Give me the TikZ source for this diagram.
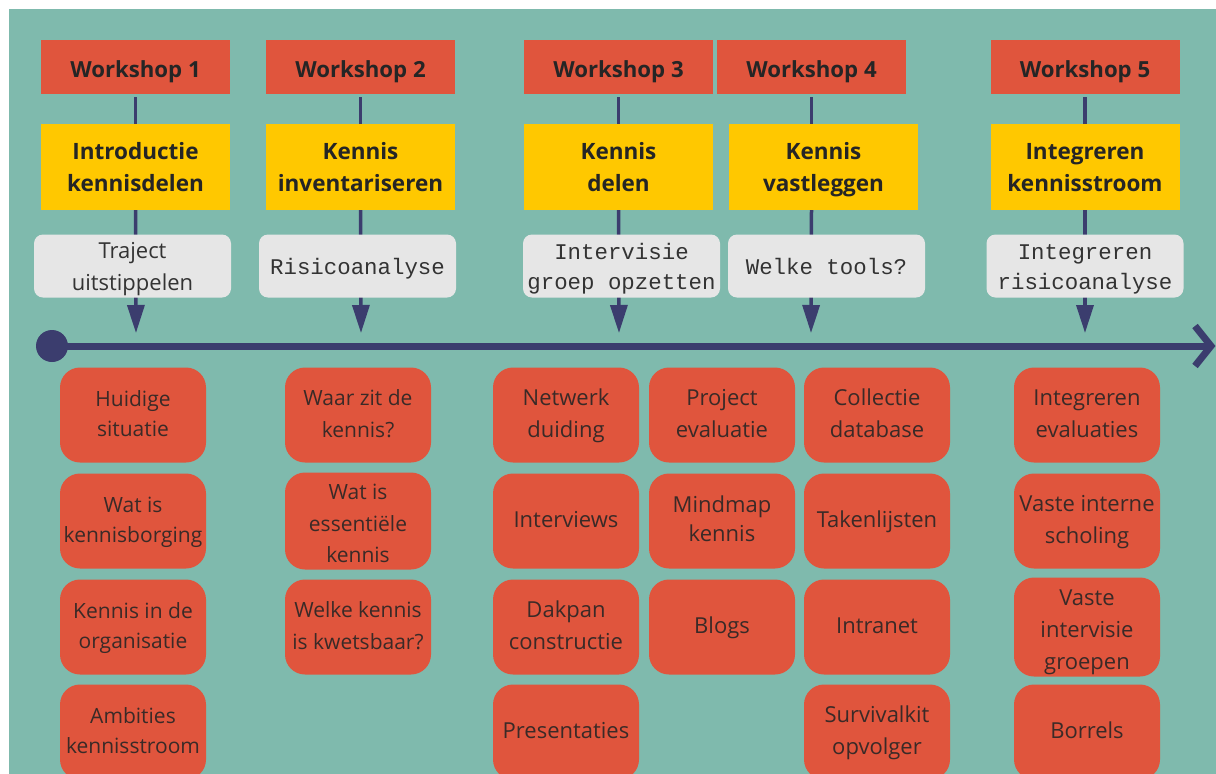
\documentclass[tikz,border=0pt]{standalone}
\usepackage{fontspec}
\setmainfont{Open Sans}
\setmonofont{Liberation Mono}
\usetikzlibrary{arrows.meta}
\definecolor{bgteal}{HTML}{7FBAAD}
\definecolor{cred}{HTML}{E0553D}
\definecolor{cyellow}{HTML}{FFC800}
\definecolor{cgray}{HTML}{E6E6E6}
\definecolor{navy}{HTML}{3B3D6E}
\definecolor{textdark}{HTML}{252525}
\definecolor{textgray}{HTML}{333333}
\definecolor{textred}{HTML}{3A2A27}
% top and bottom struts
\newcommand{\hsT}{\rule{0pt}{22pt}}
\newcommand{\hsB}{\rule[-6pt]{0pt}{6pt}}
\newcommand{\wsT}{\rule{0pt}{26pt}}
\newcommand{\isT}{\rule{0pt}{20pt}}
\newcommand{\isB}{\rule[-7pt]{0pt}{7pt}}
\begin{document}
\begin{tikzpicture}[x=1pt,y=-1pt,
  wsbox/.style={fill=cred, minimum width=189pt, minimum height=54pt, inner sep=0pt,
    font=\fontsize{22.2}{31}\selectfont\bfseries, text=textdark},
  themebox/.style={fill=cyellow, minimum width=189pt, minimum height=86pt, inner sep=0pt,
    align=center, font=\fontsize{22.5}{32}\selectfont\bfseries, text=textdark},
  qbox/.style={fill=cgray, rounded corners=9pt, minimum width=197pt, minimum height=63pt,
    inner sep=0pt, align=center, font=\ttfamily\fontsize{22.4}{30}\selectfont, text=textgray},
  itembox/.style={fill=cred, rounded corners=20pt, minimum width=146pt, minimum height=95pt,
    inner sep=0pt, align=center, font=\fontsize{21}{30}\selectfont, text=textred},
  miditem/.style={itembox, font=\fontsize{21}{31.5}\selectfont},
  bigitem/.style={itembox, font=\fontsize{22}{32}\selectfont},
  conn/.style={draw=navy, line width=3.5pt},
  arr/.style={conn, -{Triangle[length=28pt,width=17pt]}},
  tline/.style={draw=navy, line width=7pt},
]
% background
\fill[white] (0,0) rectangle (1216,774);
\fill[bgteal] (9,9) rectangle (1216,774);
\useasboundingbox (0,0) rectangle (1216,774);

% workshops
\node[wsbox] (w1) at (135.5,67) {\wsT Workshop 1\hsB};
\node[wsbox] (w2) at (360.5,67) {\wsT Workshop 2\hsB};
\node[wsbox] (w3) at (618.5,67) {\wsT Workshop 3\hsB};
\node[wsbox] (w4) at (811.5,67) {\wsT Workshop 4\hsB};
\node[wsbox] (w5) at (1085,67) {\wsT Workshop 5\hsB};

% themes
\node[themebox] (y1) at (135.5,167) {\hsT Introductie\\kennisdelen\hsB};
\node[themebox] (y2) at (360.5,167) {\hsT Kennis\\inventariseren\hsB};
\node[themebox] (y3) at (618.5,167) {\hsT Kennis\\delen\hsB};
\node[themebox] (y4) at (823.5,167) {\hsT Kennis\\vastleggen\hsB};
\node[themebox] (y5) at (1085,167) {\hsT Integreren\\kennisstroom\hsB};

% timeline
\node[circle, fill=navy, minimum size=32pt, inner sep=0pt] (dot) at (52,346) {};
\coordinate (tend) at (1211,346);
\draw[tline] (dot.center) -- (tend);
\draw[tline, line join=miter] (tend) ++(-16,-20) -- (tend) -- ++(-16,20);

\coordinate (t1) at (136,333);
\coordinate (t2) at (361,333);
\coordinate (t3) at (619,333);
\coordinate (t4) at (811,333);
\coordinate (t5) at (1085,333);

% connectors behind question boxes
\draw[conn] (w1.south) ++(0,3) -- (w1.south |- y1.north);
\draw[conn] (w2.south) ++(0,3) -- (w2.south |- y2.north);
\draw[conn] (w3.south) ++(0,3) -- (w3.south |- y3.north);
\draw[conn] (w4.south) ++(0,3) -- (w4.south |- y4.north);
\draw[conn] (w5.south) ++(0,3) -- (w5.south |- y5.north);
\draw[arr] (w1.south |- y1.south) -- (t1);
\draw[arr] (w2.south |- y2.south) -- (t2);
\draw[arr] (w3.south |- y3.south) -- (t3);
\draw[arr] (w4.south |- y4.south) -- (t4);
\draw[arr] (w5.south |- y5.south) -- (t5);

% questions
\node[qbox, font=\rmfamily\fontsize{22}{32}\selectfont] (g1) at (132.5,266) {\hsT Traject\\uitstippelen\hsB};
\node[qbox] (g2) at (357.5,266) {\hsT Risicoanalyse\hsB};
\node[qbox] (g3) at (621.5,266) {\hsT Intervisie\\groep opzetten\hsB};
\node[qbox] (g4) at (826.5,266) {\hsT Welke tools?\hsB};
\node[qbox] (g5) at (1085,266) {\hsT Integreren\\risicoanalyse\hsB};

% items
\begin{scope}
\clip (9,9) rectangle (1216,774);
\node[itembox] (a1) at (133,415) {\isT Huidige\\situatie\isB};
\node[itembox] (a2) at (133,521) {\isT Wat is\\kennisborging\isB};
\node[itembox] (a3) at (133,627) {\isT Kennis in de\\organisatie\isB};
\node[itembox] (a4) at (133,732) {\isT Ambities\\kennisstroom\isB};

\node[miditem] (b1) at (358,415) {\isT Waar zit de\\kennis?\isB};
\node[miditem] (b2) at (358,521) {\rule{0pt}{27pt}Wat is\\essentiële\\kennis\isB};
\node[miditem] (b3) at (358,627) {\isT Welke kennis\\is kwetsbaar?\isB};

\node[bigitem] (c1) at (566,415) {\isT Netwerk\\duiding\isB};
\node[bigitem] (c2) at (566,521) {\isT Interviews\isB};
\node[bigitem] (c3) at (566,627) {\isT Dakpan\\constructie\isB};
\node[bigitem] (c4) at (566,732) {\isT Presentaties\isB};

\node[bigitem] (d1) at (722,415) {\isT Project\\evaluatie\isB};
\node[bigitem] (d2) at (722,521) {\rule{0pt}{19pt}Mindmap\\[-3pt]kennis\isB};
\node[bigitem] (d3) at (722,627) {\isT Blogs\isB};

\node[bigitem] (e1) at (877,415) {\isT Collectie\\database\isB};
\node[bigitem] (e2) at (877,521) {\isT Takenlijsten\isB};
\node[bigitem] (e3) at (877,627) {\isT Intranet\isB};
\node[bigitem] (e4) at (877,732) {\isT Survivalkit\\opvolger\isB};

\node[bigitem] (f1) at (1087,415) {\isT Integreren\\evaluaties\isB};
\node[bigitem] (f2) at (1087,521) {\isT Vaste interne\\scholing\isB};
\node[bigitem] (f3) at (1087,627) {\rule{0pt}{28pt}Vaste\\intervisie\\groepen\isB};
\node[bigitem] (f4) at (1087,732) {\isT Borrels\isB};
\end{scope}
\end{tikzpicture}
\end{document}
